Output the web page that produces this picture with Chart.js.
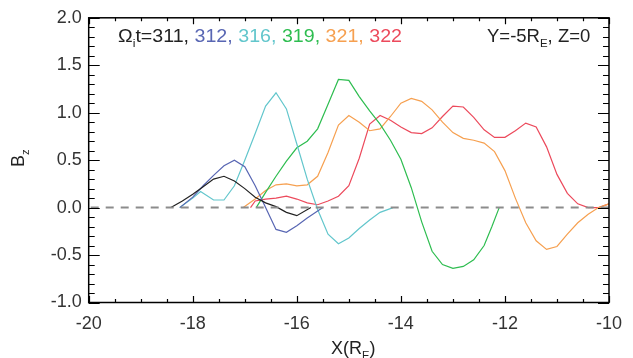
<!DOCTYPE html>
<html>
<head>
<meta charset="utf-8">
<script src="https://cdn.jsdelivr.net/npm/chart.js@4.4.0/dist/chart.umd.min.js"></script>
<style>
  body { margin: 0; background: #fff; }
  #wrap { width: 633px; height: 358px; }
</style>
</head>
<body>
<div id="wrap"><canvas id="Chart" width="633" height="358"></canvas></div>
<script>
const FONT = '"Liberation Sans", Arial, Helvetica, sans-serif';

// Bz cuts along X at Y=-5 RE, Z=0, one per time step
const times = ['311', '312', '316', '319', '321', '322'];
const colors = ['#222222', '#5866b3', '#62c6cc', '#2ebd50', '#f6a050', '#ec4a5c'];

const x311 = [-18.42, -18.2, -18.0, -17.8, -17.6, -17.4, -17.2, -17.0, -16.8, -16.6, -16.4, -16.2, -16.0, -15.73];
const bz311 = [0.0, 0.07, 0.14, 0.22, 0.30, 0.33, 0.28, 0.20, 0.11, 0.05, 0.01, -0.05, -0.085, 0.0];

const x312 = [-18.25, -18.0, -17.8, -17.6, -17.4, -17.2, -17.0, -16.8, -16.6, -16.4, -16.2, -16.0, -15.8, -15.5];
const bz312 = [0.0, 0.11, 0.23, 0.34, 0.44, 0.50, 0.43, 0.23, 0.0, -0.23, -0.26, -0.19, -0.11, 0.0];

const x316 = [-18.25, -18.0, -17.85, -17.6, -17.4, -17.2, -17.0, -16.8, -16.6, -16.4, -16.2, -16.0, -15.8, -15.6, -15.4, -15.2, -15.0, -14.8, -14.6, -14.4, -14.15];
const bz316 = [0.0, 0.10, 0.17, 0.08, 0.08, 0.23, 0.50, 0.78, 1.07, 1.21, 1.04, 0.67, 0.30, -0.02, -0.28, -0.38, -0.32, -0.22, -0.13, -0.05, 0.0];

const x319 = [-16.78, -16.6, -16.4, -16.2, -16.0, -15.8, -15.6, -15.4, -15.2, -15.0, -14.8, -14.6, -14.4, -14.2, -14.0, -13.8, -13.6, -13.4, -13.2, -13.0, -12.8, -12.6, -12.4, -12.25, -12.11];
const bz319 = [0.0, 0.16, 0.33, 0.49, 0.63, 0.70, 0.83, 1.09, 1.35, 1.34, 1.17, 1.02, 0.88, 0.71, 0.51, 0.21, -0.15, -0.46, -0.60, -0.64, -0.62, -0.55, -0.40, -0.20, 0.0];

const x321 = [-17.03, -16.8, -16.6, -16.4, -16.2, -16.0, -15.8, -15.6, -15.4, -15.2, -15.0, -14.8, -14.6, -14.4, -14.2, -14.0, -13.8, -13.6, -13.4, -13.2, -13.0, -12.8, -12.6, -12.4, -12.2, -12.0, -11.8, -11.6, -11.4, -11.2, -11.0, -10.8, -10.6, -10.4, -10.2, -10.0];
const bz321 = [0.0, 0.09, 0.18, 0.24, 0.25, 0.23, 0.24, 0.33, 0.58, 0.87, 0.97, 0.90, 0.81, 0.83, 0.96, 1.10, 1.15, 1.12, 1.03, 0.90, 0.79, 0.73, 0.71, 0.68, 0.59, 0.39, 0.10, -0.16, -0.35, -0.44, -0.41, -0.28, -0.16, -0.07, 0.0, 0.04];

const x322 = [-16.89, -16.8, -16.6, -16.4, -16.2, -16.0, -15.8, -15.6, -15.4, -15.2, -15.0, -14.8, -14.6, -14.4, -14.2, -14.0, -13.8, -13.6, -13.4, -13.2, -13.0, -12.8, -12.6, -12.4, -12.2, -12.0, -11.8, -11.6, -11.4, -11.2, -11.0, -10.8, -10.6, -10.4, -10.2, -10.0];
const bz322 = [0.0, 0.07, 0.09, 0.10, 0.12, 0.09, 0.05, 0.03, 0.07, 0.12, 0.23, 0.52, 0.88, 0.97, 0.92, 0.85, 0.79, 0.78, 0.84, 0.96, 1.07, 1.06, 0.95, 0.82, 0.74, 0.74, 0.81, 0.89, 0.85, 0.64, 0.35, 0.15, 0.04, 0.0, 0.0, 0.04];

// zero reference line
const xZero = [-20, -10];
const bzZero = [0, 0];

const xTicks = [-20, -18, -16, -14, -12, -10];
const yTicks = [-1.0, -0.5, 0.0, 0.5, 1.0, 1.5, 2.0];

const series = [[x311, bz311], [x312, bz312], [x316, bz316], [x319, bz319], [x321, bz321], [x322, bz322]];

function pts(xs, ys) {
    return xs.map((x, i) => ({x: x, y: ys[i]}));
}

const datasets = [{
    label: 'zero',
    data: pts(xZero, bzZero),
    borderColor: '#8c8c8c',
    borderWidth: 2,
    borderDash: [8, 7],
    borderDashOffset: 13
}];
series.forEach((s, i) => {
    datasets.push({
        label: times[i],
        data: pts(s[0], s[1]),
        borderColor: colors[i],
        borderWidth: 1.2
    });
});

// draw text pieces in a row, some of them as subscripts
function runs(ctx, x, y, parts, size) {
    parts.forEach(p => {
        const sz = p.sub ? size * 0.62 : size;
        ctx.font = sz + 'px ' + FONT;
        ctx.fillStyle = p.color || '#222';
        ctx.fillText(p.t, x, p.sub ? y + size * 0.28 : y);
        x += ctx.measureText(p.t).width;
    });
    return x;
}

function runsWidth(ctx, parts, size) {
    let w = 0;
    parts.forEach(p => {
        ctx.font = (p.sub ? size * 0.62 : size) + 'px ' + FONT;
        w += ctx.measureText(p.t).width;
    });
    return w;
}

const framePlugin = {
    id: 'frame',
    afterDraw(chart) {
        const ctx = chart.ctx;
        const a = chart.chartArea;
        const xs = chart.scales.x, ys = chart.scales.y;
        ctx.save();
        ctx.strokeStyle = '#000';
        ctx.lineWidth = 1.5;
        ctx.strokeRect(a.left, a.top, a.right - a.left, a.bottom - a.top);

        ctx.lineWidth = 1.2;
        ctx.beginPath();
        // x ticks every 0.5, major every 2
        for (let k = 0; k <= 20; k++) {
            const v = -20 + k * 0.5;
            const px = Math.round(xs.getPixelForValue(v)) + 0.5;
            const len = (k % 4 === 0) ? 6.5 : 3.5;
            ctx.moveTo(px, a.bottom); ctx.lineTo(px, a.bottom - len);
            ctx.moveTo(px, a.top); ctx.lineTo(px, a.top + len);
        }
        // y ticks every 0.1, major every 0.5
        for (let k = 0; k <= 30; k++) {
            const v = -1 + k * 0.1;
            const py = Math.round(ys.getPixelForValue(v)) + 0.5;
            const len = (k % 5 === 0) ? 11 : 6;
            ctx.moveTo(a.left, py); ctx.lineTo(a.left + len, py);
            ctx.moveTo(a.right, py); ctx.lineTo(a.right - len, py);
        }
        ctx.stroke();

        ctx.textBaseline = 'alphabetic';
        // time labels, stretched a little to the plot font's width
        const title = [
            {t: '\u03A9'}, {t: 'i', sub: true}, {t: 't=311, ', color: '#222'},
            {t: '312, ', color: colors[1]}, {t: '316, ', color: colors[2]},
            {t: '319, ', color: colors[3]}, {t: '321, ', color: colors[4]},
            {t: '322', color: colors[5]}
        ];
        const tw = runsWidth(ctx, title, 18.5);
        ctx.save();
        ctx.translate(118, 41.5);
        ctx.scale(284 / tw, 1);
        runs(ctx, 0, 0, title, 18.5);
        ctx.restore();
        runs(ctx, 487, 41.5, [{t: 'Y=-5R'}, {t: 'E', sub: true}, {t: ', Z=0'}], 18.5);

        // axis titles
        runs(ctx, 331, 354, [{t: 'X(R'}, {t: 'E', sub: true}, {t: ')'}], 18);
        ctx.translate(24, 167);
        ctx.rotate(-Math.PI / 2);
        runs(ctx, 0, 0, [{t: 'B'}, {t: 'z', sub: true}], 18);
        ctx.restore();
    }
};

new Chart(document.getElementById('Chart').getContext('2d'), {
    type: 'scatter',
    data: {datasets: datasets},
    options: {
        responsive: false,
        animation: false,
        showLine: true,
        elements: {point: {radius: 0, hoverRadius: 0}, line: {tension: 0}},
        layout: {padding: {left: 0, top: 12.5, right: 12.5, bottom: 0}},
        plugins: {legend: {display: false}, tooltip: {enabled: false}},
        scales: {
            x: {
                type: 'linear', min: -20, max: -10,
                afterFit: s => { s.height = 55.5; },
                afterBuildTicks: s => { s.ticks = xTicks.map(v => ({value: v})); },
                grid: {display: false, drawTicks: false},
                border: {display: false},
                ticks: {
                    color: '#333', padding: 11,
                    font: {family: FONT, size: 18},
                    callback: v => String(v)
                }
            },
            y: {
                type: 'linear', min: -1, max: 2,
                afterFit: s => { s.width = 88.7; },
                afterBuildTicks: s => { s.ticks = yTicks.map(v => ({value: v})); },
                grid: {display: false, drawTicks: false},
                border: {display: false},
                ticks: {
                    color: '#333', padding: 7,
                    font: {family: FONT, size: 18},
                    callback: v => v.toFixed(1)
                }
            }
        }
    },
    plugins: [framePlugin]
});
</script>
</body>
</html>
